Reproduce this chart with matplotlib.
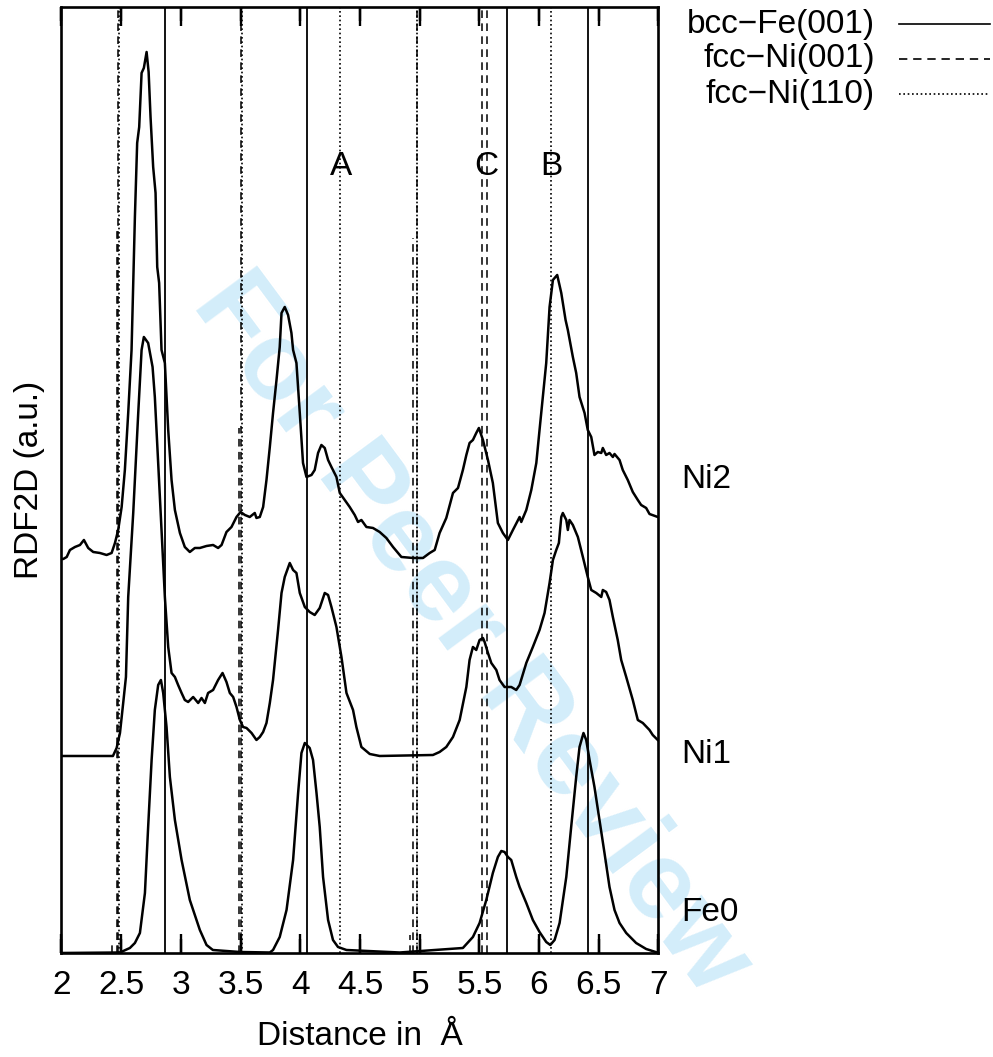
import numpy as np
import matplotlib
matplotlib.use("Agg")
import matplotlib.pyplot as plt

plt.rcParams["font.family"] = ["Liberation Sans", "DejaVu Sans"]

# RDF2D curves (a.u., curves already stacked)
fe0_r = [2.0, 2.49, 2.573, 2.615, 2.657, 2.699, 2.726, 2.755, 2.782, 2.81, 2.833,
         2.852, 2.88, 2.908, 2.95, 3.006, 3.075, 3.103, 3.159, 3.215, 3.268, 3.494,
         3.745, 3.772, 3.828, 3.885, 3.94, 3.982, 4.01, 4.038, 4.079, 4.107, 4.136,
         4.163, 4.191, 4.233, 4.274, 4.316, 4.387, 4.833, 5.362, 5.446, 5.502, 5.558,
         5.613, 5.655, 5.684, 5.711, 5.739, 5.767, 5.809, 5.837, 5.893, 5.948, 6.004,
         6.06, 6.094, 6.13, 6.172, 6.228, 6.269, 6.311, 6.339, 6.372, 6.395, 6.423,
         6.464, 6.506, 6.548, 6.59, 6.632, 6.674, 6.73, 6.813, 6.897, 6.994]
fe0_g = [0.0, 0.005, 0.05, 0.10, 0.20, 0.60, 1.26, 1.93, 2.43, 2.68, 2.73,
         2.60, 2.26, 1.76, 1.33, 0.93, 0.53, 0.43, 0.23, 0.08, 0.03, 0.01,
         0.005, 0.03, 0.16, 0.43, 0.93, 1.60, 2.00, 2.10, 2.05, 1.93, 1.60,
         1.26, 0.76, 0.33, 0.13, 0.06, 0.03, 0.005, 0.05, 0.16, 0.30, 0.53,
         0.80, 0.96, 1.02, 1.01, 0.96, 0.93, 0.76, 0.66, 0.50, 0.33, 0.21,
         0.11, 0.08, 0.13, 0.30, 0.76, 1.26, 1.76, 2.06, 2.20, 2.13, 1.93,
         1.66, 1.33, 1.00, 0.66, 0.43, 0.30, 0.20, 0.10, 0.04, 0.003]

ni1_r = [2.0, 2.431, 2.462, 2.49, 2.517, 2.54, 2.559, 2.601, 2.643, 2.671, 2.69,
         2.726, 2.763, 2.782, 2.81, 2.838, 2.866, 2.894, 2.922, 2.95, 2.977, 3.006,
         3.033, 3.061, 3.103, 3.145, 3.173, 3.201, 3.228, 3.27, 3.312, 3.349, 3.382,
         3.41, 3.438, 3.466, 3.494, 3.521, 3.55, 3.592, 3.633, 3.661, 3.689, 3.717,
         3.745, 3.772, 3.814, 3.843, 3.87, 3.912, 3.94, 3.968, 3.996, 4.038, 4.079,
         4.121, 4.163, 4.205, 4.233, 4.261, 4.303, 4.345, 4.387, 4.442, 4.47, 4.512,
         4.582, 4.665, 5.111, 5.167, 5.223, 5.279, 5.335, 5.391, 5.418, 5.446, 5.474,
         5.502, 5.53, 5.544, 5.572, 5.6, 5.642, 5.669, 5.711, 5.767, 5.809, 5.837,
         5.893, 5.948, 6.004, 6.046, 6.088, 6.116, 6.144, 6.166, 6.186, 6.199, 6.228,
         6.241, 6.255, 6.283, 6.325, 6.367, 6.408, 6.437, 6.479, 6.521, 6.534, 6.562,
         6.59, 6.618, 6.659, 6.688, 6.73, 6.785, 6.827, 6.869, 6.925, 6.952, 6.994]
ni1_g = [1.97, 1.97, 2.05, 2.20, 2.50, 2.76, 3.56, 4.40, 5.40, 6.03, 6.16,
         6.10, 5.86, 5.56, 4.90, 4.23, 3.56, 3.06, 2.80, 2.76, 2.68, 2.60,
         2.53, 2.51, 2.56, 2.50, 2.55, 2.50, 2.60, 2.63, 2.73, 2.80, 2.71,
         2.60, 2.56, 2.46, 2.33, 2.26, 2.25, 2.20, 2.13, 2.16, 2.21, 2.30,
         2.50, 2.73, 3.23, 3.60, 3.76, 3.90, 3.83, 3.80, 3.60, 3.46, 3.41,
         3.38, 3.45, 3.60, 3.58, 3.46, 3.26, 2.96, 2.60, 2.43, 2.26, 2.06,
         1.99, 1.97, 1.98, 2.01, 2.06, 2.16, 2.33, 2.66, 2.93, 3.06, 3.03,
         3.13, 3.15, 3.11, 3.00, 2.90, 2.83, 2.73, 2.66, 2.66, 2.63, 2.68,
         2.90, 3.06, 3.23, 3.40, 3.70, 3.93, 4.03, 4.10, 4.36, 4.40, 4.33,
         4.23, 4.33, 4.28, 4.16, 3.96, 3.76, 3.63, 3.60, 3.56, 3.63, 3.61,
         3.53, 3.36, 3.13, 2.93, 2.76, 2.53, 2.33, 2.30, 2.23, 2.18, 2.13]

ni2_r = [2.0, 2.015, 2.044, 2.071, 2.113, 2.155, 2.188, 2.224, 2.266, 2.322, 2.378,
         2.42, 2.448, 2.475, 2.504, 2.531, 2.559, 2.587, 2.601, 2.615, 2.634, 2.651,
         2.671, 2.69, 2.713, 2.73, 2.746, 2.768, 2.788, 2.802, 2.818, 2.838, 2.866,
         2.894, 2.922, 2.95, 2.992, 3.033, 3.075, 3.117, 3.159, 3.215, 3.27, 3.312,
         3.341, 3.382, 3.424, 3.466, 3.5, 3.536, 3.577, 3.619, 3.633, 3.661, 3.689,
         3.717, 3.745, 3.772, 3.801, 3.828, 3.843, 3.87, 3.898, 3.926, 3.94, 3.968,
         3.996, 4.023, 4.052, 4.094, 4.121, 4.149, 4.177, 4.205, 4.233, 4.261, 4.303,
         4.331, 4.372, 4.414, 4.456, 4.484, 4.512, 4.554, 4.609, 4.665, 4.721, 4.777,
         4.847, 4.944, 5.028, 5.084, 5.126, 5.167, 5.223, 5.279, 5.321, 5.362, 5.391,
         5.418, 5.446, 5.474, 5.496, 5.53, 5.572, 5.613, 5.655, 5.697, 5.739, 5.781,
         5.837, 5.851, 5.893, 5.935, 5.977, 6.004, 6.032, 6.06, 6.088, 6.116, 6.152,
         6.186, 6.222, 6.241, 6.283, 6.311, 6.339, 6.381, 6.408, 6.437, 6.464, 6.492,
         6.521, 6.534, 6.562, 6.59, 6.618, 6.632, 6.674, 6.701, 6.743, 6.785, 6.827,
         6.855, 6.897, 6.925, 6.994]
ni2_g = [3.94, 3.94, 3.96, 4.03, 4.06, 4.08, 4.13, 4.05, 4.01, 4.00, 3.98,
         4.00, 4.10, 4.23, 4.46, 4.83, 5.40, 6.03, 6.70, 7.36, 8.10, 8.26,
         8.80, 8.85, 9.01, 8.81, 8.36, 7.86, 7.60, 6.86, 6.70, 6.03, 5.90,
         5.23, 4.73, 4.43, 4.20, 4.06, 4.01, 4.05, 4.05, 4.07, 4.08, 4.05,
         4.08, 4.21, 4.26, 4.36, 4.41, 4.38, 4.36, 4.40, 4.35, 4.36, 4.46,
         4.73, 5.06, 5.40, 5.73, 6.06, 6.40, 6.46, 6.38, 6.20, 6.03, 5.90,
         5.40, 4.90, 4.76, 4.78, 4.83, 5.00, 5.08, 5.05, 4.93, 4.86, 4.76,
         4.60, 4.53, 4.46, 4.38, 4.31, 4.33, 4.26, 4.25, 4.21, 4.15, 4.06,
         3.96, 3.95, 3.95, 4.00, 4.03, 4.20, 4.35, 4.60, 4.65, 4.83, 4.98,
         5.10, 5.13, 5.20, 5.25, 5.13, 4.93, 4.70, 4.30, 4.20, 4.13, 4.23,
         4.36, 4.31, 4.43, 4.63, 4.90, 5.23, 5.56, 5.90, 6.46, 6.73, 6.78,
         6.60, 6.33, 6.23, 5.96, 5.80, 5.56, 5.40, 5.23, 5.16, 4.98, 5.01,
         5.00, 5.05, 4.98, 5.00, 4.96, 4.99, 4.93, 4.83, 4.73, 4.61, 4.53,
         4.48, 4.45, 4.39, 4.36]

# reference neighbour distances (Angstrom)
bcc_fe_001 = [2.866, 4.053, 5.732, 6.409]
fcc_ni_001 = [2.475, 3.502, 4.975, 5.525, 5.563]
fcc_ni_110 = [2.481, 3.508, 4.33, 4.975, 6.096]
# shorter fcc-Ni(001) impulses
fcc_ni_001_short_r = [2.465, 3.49, 4.944, 2.42, 4.92, 5.50]
fcc_ni_001_short_h = [7.26, 5.25, 7.15, 0.12, 0.18, 0.18]

peak_labels = ["A", "C", "B"]
peak_label_r = [4.345, 5.56, 6.10]

curve_names = ["Ni2", "Ni1", "Fe0"]
curve_name_y = [4.73, 1.98, 0.40]

x_ticks = [2, 2.5, 3, 3.5, 4, 4.5, 5, 5.5, 6, 6.5, 7]
x_tick_labels = ["2", "2.5", "3", "3.5", "4", "4.5", "5", "5.5", "6", "6.5", "7"]

legend_names = ["bcc\u2212Fe(001)", "fcc\u2212Ni(001)", "fcc\u2212Ni(110)"]
legend_styles = ["-", (0, (5, 3.5)), (0, (1, 1.6))]

fs = 24

fig = plt.figure(figsize=(9.93, 10.57), dpi=100)
ax = fig.add_axes([0.0619, 0.0984, 0.6012, 0.8950])
ax.patch.set_alpha(0)

fig.text(0.474, 0.40, "For Peer Review", rotation=-53.5, fontsize=80,
         fontweight="bold", color="#d3edfa", ha="center", va="center", zorder=-5)

for r in bcc_fe_001:
    ax.axvline(r, color="black", lw=1.3, ls="-")
for r in fcc_ni_001:
    ax.axvline(r, color="black", lw=1.1, ls=legend_styles[1])
for r in fcc_ni_110:
    ax.axvline(r, color="black", lw=1.2, ls=legend_styles[2])
for r, h in zip(fcc_ni_001_short_r, fcc_ni_001_short_h):
    ax.vlines(r, 0, h, color="black", lw=1.1, ls=legend_styles[1])

for r_vals, g_vals in [(fe0_r, fe0_g), (ni1_r, ni1_g), (ni2_r, ni2_g)]:
    ax.plot(r_vals, g_vals, color="black", lw=1.8)

for lab, r in zip(peak_labels, peak_label_r):
    ax.text(r, 7.86, lab, fontsize=fs, ha="center", va="center")

for name, y in zip(curve_names, curve_name_y):
    ax.text(7.19, y, name, fontsize=fs, ha="left", va="center", clip_on=False)

ax.set_xlim(2, 7)
ax.set_ylim(0, 9.46)
ax.set_xticks(x_ticks)
ax.set_xticklabels(x_tick_labels)
ax.set_yticks([])
ax.tick_params(axis="x", which="major", direction="in", top=True, bottom=True,
               length=14, width=1.7, colors="black", labelsize=fs, pad=12)
# inward tick marks drawn as short lines too (gnuplot look, bottom and top)
tick_len = 14 / 946
xt = ax.get_xaxis_transform()
for x in x_ticks:
    ax.plot([x, x], [0, tick_len], color="black", lw=1.7, transform=xt,
            clip_on=False, solid_capstyle="butt")
    ax.plot([x, x], [1 - tick_len, 1], color="black", lw=1.7, transform=xt,
            clip_on=False, solid_capstyle="butt")
for s in ax.spines.values():
    s.set_linewidth(1.9)

ax.set_xlabel("Distance in  \u00c5", fontsize=fs, labelpad=15)
ax.set_ylabel("RDF2D (a.u.)", fontsize=fs, labelpad=12)

# gnuplot style key outside the axes
leg_rows_px = [24, 59, 94]
for name, style, ypx in zip(legend_names, legend_styles, leg_rows_px):
    yf = 1 - ypx / 1057
    fig.text(875 / 993, yf, name, fontsize=fs, ha="right", va="center")
    fig.add_artist(plt.Line2D([899 / 993, 990 / 993], [yf, yf], color="black",
                              lw=1.2, ls=style))

fig.savefig("out.png", dpi=100)
